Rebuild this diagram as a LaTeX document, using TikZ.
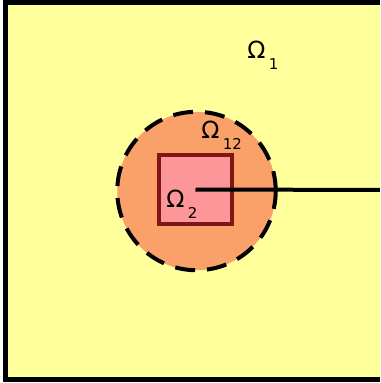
\documentclass[tikz,border=0pt]{standalone}
\usepackage{fontspec}
\setmainfont{DejaVu Sans}
\definecolor{amarillo}{RGB}{255,255,155}
\definecolor{naranja}{RGB}{250,160,105}
\definecolor{rosa}{RGB}{252,150,152}
\definecolor{granate}{RGB}{128,22,22}
\newcommand{\dom}[1]{\fontsize{13.5}{15}\selectfont Ω\kern2pt\raisebox{-0.22cm}{\fontsize{8.5}{10}\selectfont #1}}
\tikzset{
  circulo/.style={circle, draw=black, fill=naranja, line width=0.08cm,
    dash pattern=on 0.4cm off 0.24cm, minimum size=3.17cm, inner sep=0pt},
  cuadro/.style={rectangle, draw=granate, fill=rosa, line width=0.08cm,
    minimum width=1.46cm, minimum height=1.38cm, inner sep=0pt},
  etiqueta/.style={anchor=base west, inner sep=0pt}
}
\begin{document}
\begin{tikzpicture}[x=0.02cm,y=-0.02cm]
  \clip (0,0) rectangle (380,383);

  % Dibujar el dominio exterior
  \draw[line width=0.1cm, fill=amarillo] (5.5,2.5) rectangle (395,379);

  % Dibujar el solapamiento y el subdominio
  \node[circulo] (om12) at (196.5,191) {};
  \node[cuadro] (om2) at (195.5,189.5) {};
  \coordinate (borde) at (395,190);
  \draw[line width=0.08cm] (om2.center) -- (borde);

  % Etiquetas
  \node[etiqueta] (l1) at (247,58) {\dom{1}};
  \node[etiqueta] (l12) at (201,138) {\dom{12}};
  \node[etiqueta] (l2) at (166,207) {\dom{2}};

\end{tikzpicture}
\end{document}
